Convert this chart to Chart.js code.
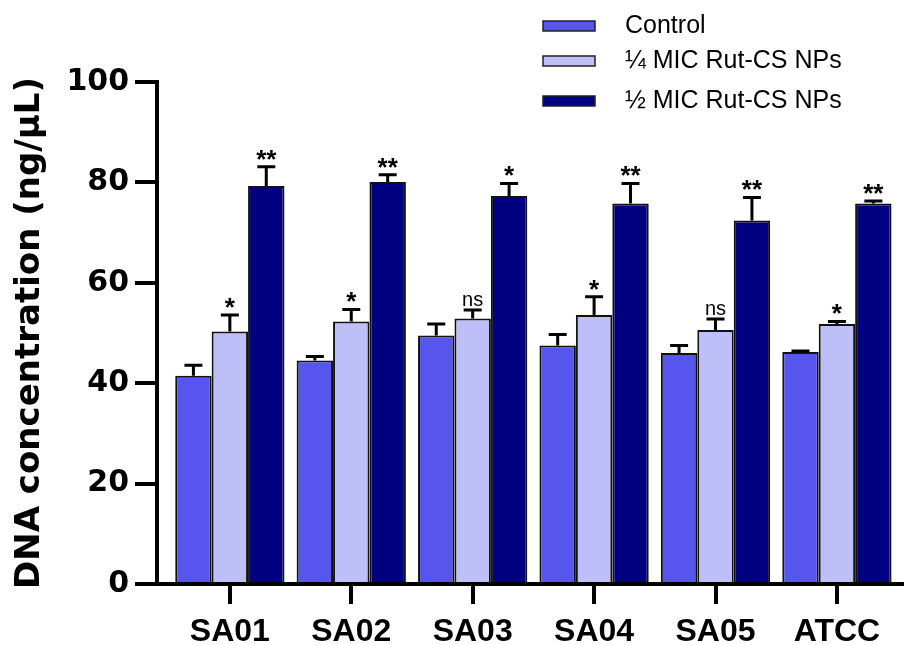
<!DOCTYPE html>
<html>
<head>
<meta charset="utf-8">
<script src="https://cdn.jsdelivr.net/npm/chart.js@4/dist/chart.umd.min.js"></script>
<style>
  html, body { margin: 0; padding: 0; background: #fff; }
  #wrap { width: 904px; height: 645px; position: relative; }
</style>
</head>
<body>
<div id="wrap"><canvas id="dnaChart"></canvas></div>
<script>
// ---- data ----
const strains = ['SA01', 'SA02', 'SA03', 'SA04', 'SA05', 'ATCC'];
const seriesNames = ['Control', '¼ MIC Rut-CS NPs', '½ MIC Rut-CS NPs'];

const controlVals = [41.5, 44.5, 49.5, 47.5, 46.0, 46.2];
const quarterVals = [50.3, 52.3, 52.9, 53.6, 50.6, 51.8];
const halfVals    = [79.3, 80.1, 77.3, 75.8, 72.4, 75.8];

const controlErr = [2.1, 0.8, 2.3, 2.2, 1.5, 0.2];
const quarterErr = [3.3, 2.4, 1.7, 3.6, 2.2, 0.5];
const halfErr    = [3.8, 1.4, 2.5, 4.0, 4.6, 0.5];

const quarterSig = ['*', '*', 'ns', '*', 'ns', '*'];
const halfSig    = ['**', '**', '*', '**', '**', '**'];

const yTicks = [0, 20, 40, 60, 80, 100];

const colors = ['#5656EF', '#BEBEF8', '#000080'];

const toPoints = vals => vals.map((v, i) => ({ x: i, y: v }));

// error bars + significance marks
const errorBars = {
    id: 'errorBars',
    afterDatasetsDraw(chart) {
        const ctx = chart.ctx, y = chart.scales.y;
        chart.data.datasets.forEach((ds, d) => {
            const meta = chart.getDatasetMeta(d);
            meta.data.forEach((bar, i) => {
                const top = y.getPixelForValue(ds.data[i].y + ds.errors[i]);
                ctx.save();
                ctx.strokeStyle = '#000';
                ctx.lineWidth = 3;
                ctx.beginPath();
                ctx.moveTo(bar.x, bar.y);
                ctx.lineTo(bar.x, top);
                ctx.moveTo(bar.x - 9, top);
                ctx.lineTo(bar.x + 9, top);
                ctx.stroke();
                const mark = ds.marks ? ds.marks[i] : '';
                if (mark) {
                    ctx.fillStyle = '#000';
                    ctx.textAlign = 'center';
                    ctx.textBaseline = 'alphabetic';
                    if (mark === 'ns') {
                        ctx.font = '20px "Liberation Sans", Arial, sans-serif';
                        ctx.fillText(mark, bar.x, top - 4);
                    } else {
                        ctx.font = 'bold 26px "Liberation Sans", Arial, sans-serif';
                        ctx.fillText(mark, bar.x, top + 1);
                    }
                }
                ctx.restore();
            });
        });
    }
};

// legend in the top right corner
const boxLegend = {
    id: 'boxLegend',
    afterDraw(chart) {
        const ctx = chart.ctx;
        const rows = [26, 61, 101];
        ctx.save();
        chart.data.datasets.forEach((ds, d) => {
            const cy = rows[d];
            ctx.fillStyle = ds.backgroundColor;
            ctx.fillRect(543, cy - 5, 52, 10);
            ctx.strokeStyle = '#222';
            ctx.lineWidth = 1.5;
            ctx.strokeRect(543, cy - 5, 52, 10);
            ctx.fillStyle = '#000';
            ctx.font = '25px "Liberation Sans", Arial, sans-serif';
            ctx.textBaseline = 'middle';
            ctx.textAlign = 'left';
            ctx.fillText(ds.label, 625, cy);
        });
        ctx.restore();
    }
};

const valueSets = [controlVals, quarterVals, halfVals];
const errSets = [controlErr, quarterErr, halfErr];
const sigSets = [null, quarterSig, halfSig];

new Chart(document.getElementById('dnaChart').getContext('2d'), {
    type: 'bar',
    data: {
        datasets: seriesNames.map((name, k) => ({
            label: name,
            data: toPoints(valueSets[k]),
            errors: errSets[k],
            marks: sigSets[k],
            backgroundColor: colors[k],
            borderColor: '#111',
            borderWidth: 2,
            borderSkipped: 'bottom',
            barPercentage: 1.0,
            categoryPercentage: 0.9
        }))
    },
    options: {
        responsive: true,
        maintainAspectRatio: false,
        animation: false,
        layout: { padding: { left: 0, right: 2, top: 82, bottom: 0 } },
        plugins: { legend: { display: false }, tooltip: { enabled: false } },
        scales: {
            x: {
                type: 'linear',
                min: -0.6,
                max: 5.536,
                offset: false,
                ticks: {
                    stepSize: 1,
                    includeBounds: false,
                    autoSkip: false,
                    maxRotation: 0,
                    padding: 9,
                    color: '#000',
                    font: { family: '"Liberation Sans", Arial, sans-serif', weight: 'bold', size: 32 },
                    callback: v => strains[v] ?? ''
                },
                grid: { offset: false, drawOnChartArea: false, tickLength: 20, lineWidth: 4, color: '#000' },
                border: { color: '#000', width: 4 },
                afterFit: s => { s.height = 61; }
            },
            y: {
                min: 0,
                max: 100,
                afterBuildTicks: s => { s.ticks = yTicks.map(v => ({ value: v })); },
                ticks: {
                    padding: 6,
                    color: '#000',
                    font: { family: '"DejaVu Sans", sans-serif', weight: 'bold', size: 30 }
                },
                grid: { drawOnChartArea: false, tickLength: 22, lineWidth: 4, color: '#000' },
                border: { color: '#000', width: 4 },
                title: {
                    display: true,
                    text: 'DNA concentration (ng/µL)',
                    color: '#000',
                    font: { family: '"DejaVu Sans", sans-serif', weight: 'bold', size: 34 },
                    padding: { top: 10, bottom: 0 }
                },
                afterFit: s => { s.width = 157; }
            }
        }
    },
    plugins: [errorBars, boxLegend]
});
</script>
</body>
</html>
